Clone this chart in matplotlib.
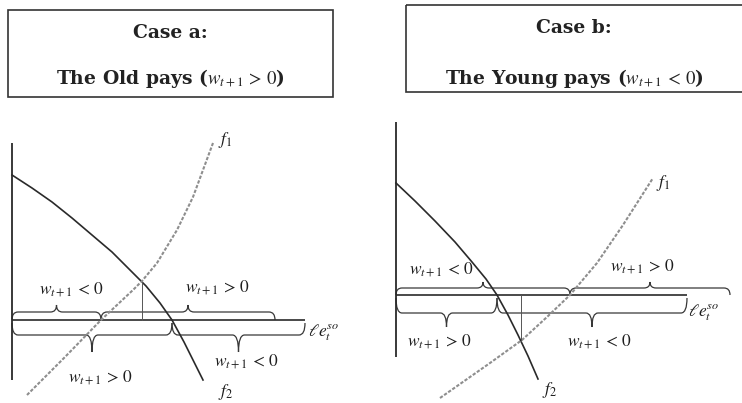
import matplotlib
matplotlib.use("Agg")
from matplotlib import pyplot as plt
from matplotlib.patches import Rectangle, PathPatch
from matplotlib.path import Path

W, H = 742, 403
DPI = 100

# panel units: origin at the corner of the axes, 1 unit = 100 px

# Case a: the old pays
a_f1_x = [0.15, 0.52, 0.89, 1.21, 1.30, 1.45, 1.65, 1.81, 2.01]
a_f1_y = [-0.75, -0.38, 0.00, 0.30, 0.39, 0.57, 0.90, 1.23, 1.77]
a_f2_x = [0.00, 0.20, 0.40, 0.60, 0.80, 1.00, 1.18, 1.34, 1.48, 1.60, 1.72, 1.82, 1.91]
a_f2_y = [1.45, 1.32, 1.18, 1.02, 0.85, 0.68, 0.50, 0.34, 0.17, 0.00, -0.22, -0.42, -0.60]
a_cross = [1.30, 0.385]           # f1 = f2
a_upper = [0.00, 0.89, 2.63]      # brace edges above the axis
a_lower = [0.00, 1.60, 2.93]      # brace edges below the axis
a_xaxis = [0.00, 2.93]
a_yaxis = [-0.60, 1.77]

# Case b: the young pays
b_f1_x = [0.44, 0.94, 1.26, 1.51, 1.74, 2.01, 2.27, 2.57]
b_f1_y = [-1.03, -0.68, -0.45, -0.22, 0.00, 0.32, 0.70, 1.17]
b_f2_x = [0.00, 0.19, 0.39, 0.59, 0.76, 0.90, 1.01, 1.12, 1.22, 1.32, 1.42]
b_f2_y = [1.12, 0.94, 0.74, 0.53, 0.33, 0.16, 0.00, -0.20, -0.40, -0.61, -0.84]
b_cross = [1.25, -0.46]
b_upper = [0.00, 1.74, 3.34]
b_lower = [0.00, 1.01, 2.91]
b_xaxis = [0.00, 2.91]
b_yaxis = [-0.62, 1.73]

upper_labels = [r"$w_{t+1}\,<\,0$", r"$w_{t+1}\,>\,0$"]
lower_labels = [r"$w_{t+1}\,>\,0$", r"$w_{t+1}\,<\,0$"]

DARK = '#2a2a2a'
GREY = '#8e8e8e'
LABEL_FS = 12.5


def brace(ax, x0, x1, y0, yf, yt, r=0.06):
    xm = (x0 + x1) / 2
    verts = [(x0, y0), (x0, yf), (x0 + r, yf),
             (xm - r, yf), (xm, yf), (xm, yt),
             (xm, yf), (xm + r, yf),
             (x1 - r, yf), (x1, yf), (x1, y0)]
    codes = [Path.MOVETO, Path.CURVE3, Path.CURVE3,
             Path.LINETO, Path.CURVE3, Path.CURVE3,
             Path.CURVE3, Path.CURVE3,
             Path.LINETO, Path.CURVE3, Path.CURVE3]
    ax.add_patch(PathPatch(Path(verts, codes), fill=False, lw=0.9, ec='#383838'))


def panel_axes(fig, ox, oy):
    ax = fig.add_axes([0, 0, 1, 1])
    ax.set_xlim(-ox / 100, (W - ox) / 100)
    ax.set_ylim(-(H - oy) / 100, oy / 100)
    ax.patch.set_alpha(0)
    ax.axis('off')
    return ax


def draw_panel(ax, f1x, f1y, f2x, f2y, cross, upper, lower, xaxis, yaxis,
               up_shape, low_shape, pos):
    ax.plot([0, 0], yaxis, color=DARK, lw=1.3, solid_capstyle='butt')
    ax.plot(xaxis, [0, 0], color=DARK, lw=1.2, solid_capstyle='butt')
    ax.plot(f2x, f2y, color=DARK, lw=1.2)
    ax.plot(f1x, f1y, color=GREY, lw=1.5, ls=(0, (1.6, 0.8)))
    ax.plot([cross[0], cross[0]], [0, cross[1]], color='#555555', lw=0.7)

    for x0, x1 in zip(upper[:-1], upper[1:]):
        brace(ax, x0, x1, *up_shape)
    for x0, x1 in zip(lower[:-1], lower[1:]):
        brace(ax, x0, x1, *low_shape)

    kw = dict(fontsize=LABEL_FS, ha='center', va='center', color='#1e1e1e',
              math_fontfamily='stix')
    for lab, (x, y) in zip(upper_labels, pos['upper']):
        ax.text(x, y, lab, **kw)
    for lab, (x, y) in zip(lower_labels, pos['lower']):
        ax.text(x, y, lab, **kw)
    ax.text(*pos['le'], r"$\ell e_t^{so}$", **kw)
    ax.text(*pos['f1'], r"$f_1$", **kw)
    ax.text(*pos['f2'], r"$f_2$", **kw)


fig = plt.figure(figsize=(W / DPI, H / DPI), dpi=DPI)
fig.patch.set_facecolor('white')

# title boxes, in pixel coordinates
bx = fig.add_axes([0, 0, 1, 1])
bx.set_xlim(0, W)
bx.set_ylim(H, 0)
bx.axis('off')
bx.add_patch(Rectangle((8, 10), 325, 87, fill=False, lw=1.2, ec='#333333'))
bx.add_patch(Rectangle((406, 5), 360, 87, fill=False, lw=1.2, ec='#333333'))
tkw = dict(ha='center', va='center', family='DejaVu Serif', fontweight='bold',
           fontsize=13.5, color='#222222', math_fontfamily='stix')
bx.text(170, 33, "Case a:", **tkw)
bx.text(170, 78, r"The Old pays ($w_{t+1}\,>\,0$)", **tkw)
bx.text(574, 28, "Case b:", **tkw)
bx.text(574, 79, r"The Young pays ($w_{t+1}\,<\,0$)", **tkw)

ax_a = panel_axes(fig, 12, 320)
draw_panel(ax_a, a_f1_x, a_f1_y, a_f2_x, a_f2_y, a_cross, a_upper, a_lower,
           a_xaxis, a_yaxis, (0.0, 0.08, 0.15), (-0.03, -0.15, -0.32),
           dict(upper=[(0.60, 0.30), (2.06, 0.32)],
                lower=[(0.89, -0.58), (2.35, -0.42)],
                le=(3.12, -0.13), f1=(2.13, 1.80), f2=(2.14, -0.72)))

ax_b = panel_axes(fig, 396, 295)
draw_panel(ax_b, b_f1_x, b_f1_y, b_f2_x, b_f2_y, b_cross, b_upper, b_lower,
           b_xaxis, b_yaxis, (0.0, 0.07, 0.13), (-0.03, -0.18, -0.32),
           dict(upper=[(0.46, 0.25), (2.47, 0.28)],
                lower=[(0.44, -0.47), (2.04, -0.47)],
                le=(3.08, -0.18), f1=(2.67, 1.12), f2=(1.54, -0.95)))

fig.savefig('out.png', dpi=DPI)
